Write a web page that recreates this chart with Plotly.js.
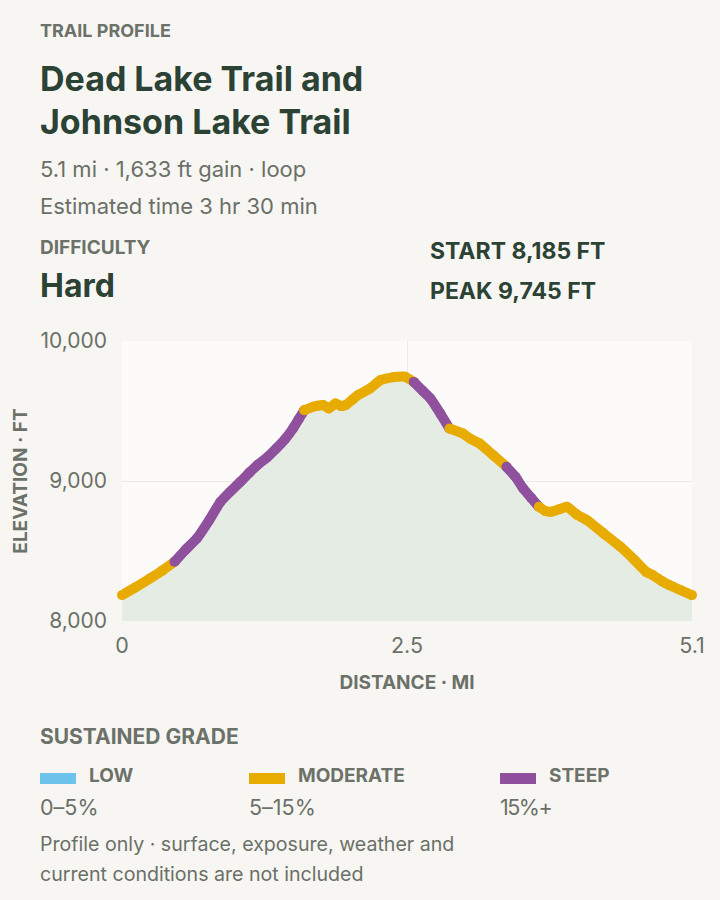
<!DOCTYPE html>
<html>
<head>
<meta charset="utf-8">
<script src="https://cdn.plot.ly/plotly-3.0.1.min.js"></script>
<style>
  html, body { margin:0; padding:0; background:#f7f6f2; }
  body { width:720px; height:900px; position:relative; overflow:hidden; font-family:Inter, "Noto Sans", sans-serif; }
  #chart { position:absolute; left:0; top:0; width:720px; height:900px; }
  .t { position:absolute; white-space:nowrap; pointer-events:none; font-feature-settings:"calt" 0; }
  .lab { font-weight:700; color:#6c7169; }
  .dark { font-weight:700; color:#2c4235; }
  .gray { font-weight:400; color:#6b7068; }
  .sw { position:absolute; width:36px; height:11px; }
</style>
</head>
<body>
<div id="chart"></div>

<div class="t lab" style="left:40px; top:20px; font-size:18px; line-height:22px;">TRAIL PROFILE</div>
<div class="t dark" style="left:40px; top:57px; font-size:34px; line-height:43px;">Dead Lake Trail and<br>Johnson Lake Trail</div>
<div class="t gray" style="left:40px; top:157px; font-size:22px; line-height:24px;">5.1 mi · 1,633 ft gain · loop</div>
<div class="t gray" style="left:40px; top:194px; font-size:22px; line-height:24px;">Estimated time 3 hr 30 min</div>
<div class="t lab" style="left:40px; top:237px; font-size:19px; line-height:22px;">DIFFICULTY</div>
<div class="t dark" style="left:40px; top:267px; font-size:32px; line-height:38px;">Hard</div>
<div class="t dark" style="left:430px; top:239px; font-size:23px; line-height:24px;">START 8,185 FT</div>
<div class="t dark" style="left:430px; top:279px; font-size:23px; line-height:24px;">PEAK 9,745 FT</div>

<div class="t lab" style="left:40px; top:725px; font-size:21px; line-height:24px;">SUSTAINED GRADE</div>
<div class="sw" style="left:40px; top:773px; background:#6cc4ec;"></div>
<div class="sw" style="left:249px; top:773px; background:#e8ab00;"></div>
<div class="sw" style="left:500px; top:773px; background:#8f519e;"></div>
<div class="t lab" style="left:89px; top:765px; font-size:19px; line-height:22px;">LOW</div>
<div class="t lab" style="left:298px; top:765px; font-size:19px; line-height:22px;">MODERATE</div>
<div class="t lab" style="left:549px; top:765px; font-size:19px; line-height:22px;">STEEP</div>
<div class="t gray" style="left:40px; top:795px; font-size:21.5px; line-height:24px;">0–5%</div>
<div class="t gray" style="left:249px; top:795px; font-size:21.5px; line-height:24px;">5–15%</div>
<div class="t gray" style="left:500px; top:795px; font-size:21.5px; line-height:24px; letter-spacing:-1.5px;">15%+</div>
<div class="t gray" style="left:40px; top:829px; font-size:19.6px; line-height:30px;">Profile only · surface, exposure, weather and<br>current conditions are not included</div>

<script>
// Trail profile data (distance in miles, elevation in feet)
const distanceMi = [0.00,0.12,0.25,0.36,0.47,0.57,0.67,0.78,0.88,0.97,1.06,1.14,1.21,1.30,1.38,1.46,1.53,1.58,
  1.63,1.71,1.80,1.85,1.91,1.96,2.00,2.06,2.11,2.22,2.31,2.43,2.53,
  2.61,2.69,2.76,2.85,2.93,3.05,3.12,3.20,3.32,3.44,3.52,3.59,3.66,
  3.73,3.79,3.84,3.92,3.98,4.07,4.16,4.31,4.46,4.58,4.69,4.75,4.83,4.90,5.00,5.10];
const elevationFt = [8185,8240,8303,8360,8423,8510,8590,8720,8850,8925,8995,9060,9113,9170,9232,9300,9375,9440,
  9505,9530,9542,9518,9554,9535,9542,9580,9613,9661,9720,9742,9745,
  9708,9645,9589,9480,9375,9339,9300,9268,9185,9101,9030,8946,8880,
  8816,8785,8780,8800,8816,8760,8720,8625,8530,8440,8351,8327,8285,8256,8220,8185];
// grade class of the segment starting at each point: M = moderate, S = steep
const gradeClass = ["M","M","M","M","S","S","S","S","S","S","S","S","S","S","S","S","S","S",
  "M","M","M","M","M","M","M","M","M","M","M","M","M",
  "S","S","S","S","M","M","M","M","M","S","S","S","S",
  "M","M","M","M","M","M","M","M","M","M","M","M","M","M","M","M"];
const gradeColors = { L: "#6cc4ec", M: "#e8ab00", S: "#8f519e" };
const xTickVals = [0, 2.55, 5.1];
const xTickText = ["0", "2.5", "5.1"];
const yTickVals = [8000, 9000, 10000];
const yTickText = ["8,000", "9,000", "10,000"];

const traces = [{
  x: distanceMi, y: elevationFt, type: "scatter", mode: "lines",
  fill: "tozeroy", fillcolor: "#e5ece4", line: { width: 0, color: "rgba(0,0,0,0)" },
  hoverinfo: "skip", showlegend: false
}];

let start = 0;
for (let i = 1; i < distanceMi.length; i++) {
  const last = i === distanceMi.length - 1;
  if (last || gradeClass[i] !== gradeClass[start]) {
    const xs = distanceMi.slice(start, i + 1);
    const ys = elevationFt.slice(start, i + 1);
    const c = gradeColors[gradeClass[start]];
    traces.push({
      x: xs, y: ys, type: "scatter", mode: "lines+markers",
      line: { color: c, width: 10, shape: "spline", smoothing: 0.4 },
      marker: { color: c, size: 10, line: { width: 0 } },
      cliponaxis: false, hoverinfo: "skip", showlegend: false
    });
    start = i;
  }
}

const layout = {
  width: 720, height: 900,
  paper_bgcolor: "#f7f6f2", plot_bgcolor: "#fcfbf9",
  margin: { l: 122, r: 28, t: 341, b: 279, pad: 0 },
  font: { family: "Inter, 'Noto Sans', sans-serif", color: "#6b7068" },
  showlegend: false,
  xaxis: {
    range: [0, 5.1], tickvals: xTickVals, ticktext: xTickText,
    showgrid: true, gridcolor: "#ebeae6", gridwidth: 1, zeroline: false, showline: false,
    ticks: "", ticklabelstandoff: 9,
    tickfont: { size: 21.5, color: "#6b7068" },
    title: { text: "<b>DISTANCE · MI</b>", font: { size: 19, color: "#6c7169" }, standoff: 19 },
    automargin: false, fixedrange: true
  },
  yaxis: {
    range: [8000, 10000], tickvals: yTickVals, ticktext: yTickText,
    showgrid: true, gridcolor: "#ebeae6", gridwidth: 1, zeroline: false, showline: false,
    ticks: "", ticklabelstandoff: 14,
    tickfont: { size: 21, color: "#6b7068" },
    title: { text: "<b>ELEVATION · FT</b>", font: { size: 19, color: "#6c7169" }, standoff: 7 },
    automargin: false, fixedrange: true
  }
};

Plotly.newPlot("chart", traces, layout, { staticPlot: true, displayModeBar: false });
</script>
</body>
</html>
